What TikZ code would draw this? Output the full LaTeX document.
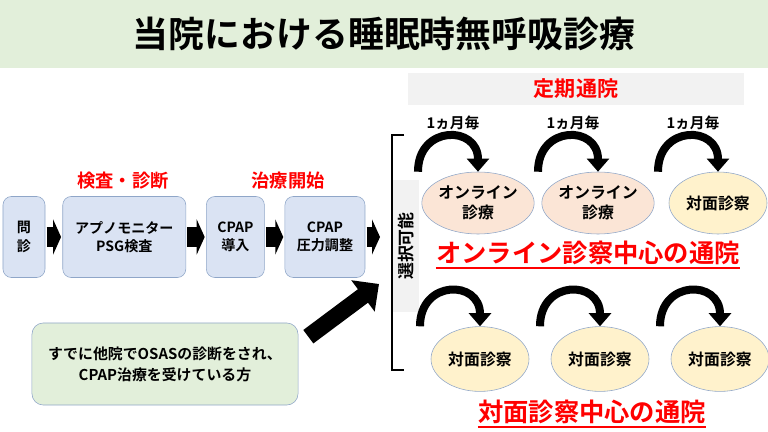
\documentclass[tikz,border=0pt]{standalone}
\usepackage{fontspec}
\setmainfont{Noto Sans CJK JP}[BoldFont={* Bold}]
\usetikzlibrary{positioning, shapes.geometric, arrows.meta}

\definecolor{titlegreen}{HTML}{E2EFDA}
\definecolor{barbgray}{HTML}{F2F2F2}
\definecolor{flowblue}{HTML}{DAE3F3}
\definecolor{edgeblue}{HTML}{8FA6C8}
\definecolor{onlinepeach}{HTML}{FBE5D6}
\definecolor{faceyellow}{HTML}{FFF2CC}

\begin{document}
\begin{tikzpicture}[x=0.025cm, y=-0.025cm, every node/.style={font=\bfseries, align=center},
  flowbox/.style={draw=edgeblue, fill=flowblue, rounded corners=6pt, minimum height=2.025cm, font=\bfseries\fontsize{10}{13}\selectfont},
  visit/.style={ellipse, draw=edgeblue, minimum width=2.45cm, minimum height=1.55cm, inner sep=0pt, font=\bfseries\fontsize{11.3}{14}\selectfont},
  redlabel/.style={text=red, font=\bfseries\fontsize{13}{15}\selectfont},
  biglabel/.style={text=red, inner sep=0pt, font=\bfseries\fontsize{18}{20}\selectfont},
  monthly/.style={font=\bfseries\fontsize{10.5}{12}\selectfont},
  flowarrow/.style={line width=0.5cm, -{Triangle[length=0.2cm, width=0.875cm]}},
  cyclearrow/.style={line width=0.2cm, -{Triangle[length=0.33cm, width=0.55cm]}},
  bigarrow/.style={line width=0.42cm, -{Triangle[length=0.5cm, width=0.95cm]}}]
\useasboundingbox (0,0) rectangle (768,432);

% title and header
\node[fill=titlegreen, minimum width=19.2cm, minimum height=1.7cm, font=\bfseries\fontsize{25.5}{28}\selectfont] (title) at (384,34) {当院における睡眠時無呼吸診療};
\node[fill=barbgray, minimum width=8.4cm, minimum height=0.8cm, text=red, font=\bfseries\fontsize{15}{18}\selectfont] (teiki) at (576,89) {定期通院};

% flow of first visit
\node[flowbox, minimum width=1.05cm] (monshin) at (24,237) {問\\診};
\node[flowbox, minimum width=3.075cm, right=0.43cm of monshin] (apno) {アプノモニター\\PSG検査};
\node[flowbox, minimum width=1.45cm, right=0.5cm of apno] (intro) {CPAP\\導入};
\node[flowbox, minimum width=2cm, right=0.5cm of intro] (titr) {CPAP\\圧力調整};
\node[redlabel] (kensa) at (123,181) {検査・診断};
\node[redlabel] (chiryo) at (288,181) {治療開始};

\node[draw=edgeblue, fill=titlegreen, rounded corners=8pt, minimum width=6.65cm, minimum height=2.05cm, font=\bfseries\fontsize{10.6}{15}\selectfont] (care) at (165,364) {すでに他院でOSASの診断をされ、\\CPAP治療を受けている方};

% choice bracket
\node[fill=barbgray, rotate=90, minimum width=3.3cm, minimum height=0.625cm, font=\bfseries\fontsize{12}{14}\selectfont] (sentaku) at (406,246) {選択可能};
\coordinate (brtop) at (404,135);
\coordinate (brbottom) at (404,370);
\coordinate (sel) at (392,237);
\draw[line width=2pt] (brtop) -- (brtop -| sel) -- (brbottom -| sel) -- (brbottom);

\draw[flowarrow] ([xshift=1pt]monshin.east) -- ([xshift=-1pt]apno.west);
\draw[flowarrow] ([xshift=1pt]apno.east) -- ([xshift=-1pt]intro.west);
\draw[flowarrow] ([xshift=1pt]intro.east) -- ([xshift=-1pt]titr.west);
\draw[flowarrow, shorten >=0.3cm] ([xshift=1pt]titr.east) -- (sel);

\coordinate (bighead) at (379,284);
\draw[bigarrow] ([xshift=0.25cm, yshift=-0.35cm]care.north east) -- (bighead);

% online centered
\node[visit, fill=onlinepeach] (on1) at (478,203) {オンライン\\診療};
\node[visit, fill=onlinepeach] (on2) at (598,203) {オンライン\\診療};
\node[visit, fill=faceyellow] (tm1) at (718,203) {対面診察};
\node[biglabel] (onlinemain) at (588,253) {オンライン診察中心の通院};
\draw[red, line width=1.5pt] ([yshift=-2pt]onlinemain.south west) -- ([yshift=-2pt]onlinemain.south east);

\node[monthly] (m1) at (453,123) {1ヵ月毎};
\node[monthly] (m2) at (573,123) {1ヵ月毎};
\node[monthly] (m3) at (693,123) {1ヵ月毎};

% face to face centered
\node[visit, fill=faceyellow, minimum height=1.62cm] (fc1) at (480,359) {対面診察};
\node[visit, fill=faceyellow, minimum height=1.62cm] (fc2) at (600,359) {対面診察};
\node[visit, fill=faceyellow, minimum height=1.62cm] (fc3) at (720,359) {対面診察};
\node[biglabel] (facemain) at (592,412) {対面診察中心の通院};
\draw[red, line width=1.5pt] ([yshift=-2pt]facemain.south west) -- ([yshift=-2pt]facemain.south east);

\foreach \e in {on1,on2,tm1,fc1,fc2,fc3}
  \draw[cyclearrow] ([xshift=-1.5cm]\e.north) to[out=90, in=90, looseness=2] (\e.north);
\end{tikzpicture}
\end{document}
